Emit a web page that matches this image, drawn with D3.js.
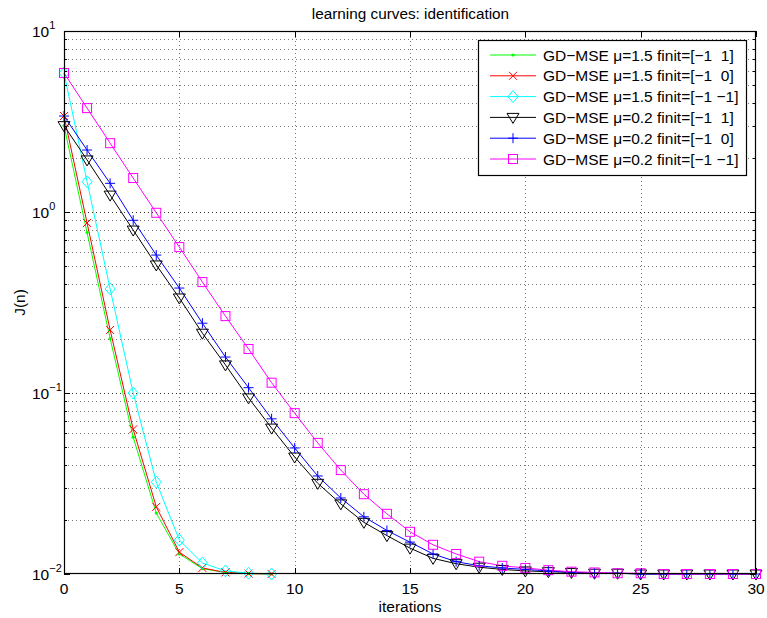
<!DOCTYPE html>
<html>
<head>
<meta charset="utf-8">
<script src="https://cdn.jsdelivr.net/npm/d3@7"></script>
<style>
  body { margin: 0; background: #fff; }
  text { font-family: "Liberation Sans", Arial, sans-serif; }
</style>
</head>
<body>
<div id="chart"></div>
<script>
const WIDTH = 767;
const HEIGHT = 618;
const MARGIN = {top: 31, right: 11, bottom: 44, left: 64};

// data
const green = [3.0, 0.77, 0.20, 0.057, 0.0217, 0.0129, 0.0107, 0.0102, 0.01005, 0.0100];
const red = [3.39, 0.87, 0.223, 0.063, 0.0235, 0.0132, 0.0108, 0.0102, 0.01005, 0.0100];
const cyan = [5.86, 1.47, 0.376, 0.100, 0.0322, 0.0154, 0.0115, 0.0104, 0.0101, 0.0100];
const black = [3.0, 1.94, 1.24, 0.795, 0.51, 0.335, 0.214, 0.143, 0.094, 0.064,
  0.0443, 0.0317, 0.0244, 0.0193, 0.0163, 0.0139, 0.0122, 0.0114, 0.0109, 0.0106,
  0.0104, 0.0103, 0.0102, 0.0101, 0.0101, 0.0100, 0.0100, 0.0100, 0.0100, 0.0100, 0.0100];
const blue = [3.39, 2.2, 1.44, 0.90, 0.578, 0.38, 0.243, 0.158, 0.107, 0.072,
  0.0497, 0.0348, 0.0263, 0.0207, 0.0174, 0.0150, 0.0129, 0.0117, 0.0111, 0.0108,
  0.0106, 0.0104, 0.0102, 0.0101, 0.0101, 0.0100, 0.0100, 0.0100, 0.0100, 0.0100, 0.0100];
const magenta = [5.86, 3.75, 2.40, 1.54, 0.99, 0.64, 0.41, 0.266, 0.175, 0.114,
  0.0774, 0.053, 0.0375, 0.0276, 0.0215, 0.0171, 0.0145, 0.0129, 0.0117, 0.0111,
  0.0108, 0.0105, 0.0103, 0.0102, 0.0101, 0.0101, 0.0100, 0.0100, 0.0100, 0.0100, 0.0100];

const seriesNames = [
  "GD\u2212MSE \u03bc=1.5 finit=[\u22121  1]",
  "GD\u2212MSE \u03bc=1.5 finit=[\u22121  0]",
  "GD\u2212MSE \u03bc=1.5 finit=[\u22121 \u22121]",
  "GD\u2212MSE \u03bc=0.2 finit=[\u22121  1]",
  "GD\u2212MSE \u03bc=0.2 finit=[\u22121  0]",
  "GD\u2212MSE \u03bc=0.2 finit=[\u22121 \u22121]"
];
const seriesColors = ["#00ff00", "#ff0000", "#00ffff", "#000000", "#0000ff", "#ff00ff"];
const seriesMarkers = ["dot", "x", "diamond", "tri", "plus", "square"];
const xTicks = [0, 5, 10, 15, 20, 25, 30];
const yTicks = [0.01, 0.1, 1, 10];
const yTickExp = ["\u22122", "\u22121", "0", "1"];

const series = [green, red, cyan, black, blue, magenta].map((vals, i) => ({
  name: seriesNames[i], color: seriesColors[i], marker: seriesMarkers[i],
  values: vals.map((v, k) => [k, v])
}));

const svg = d3.select("#chart").append("svg")
  .attr("width", WIDTH).attr("height", HEIGHT);

const x = d3.scaleLinear().domain([0, 30]).range([MARGIN.left, WIDTH - MARGIN.right]);
const y = d3.scaleLog().domain([0.01, 10]).range([HEIGHT - MARGIN.bottom, MARGIN.top]);

const x0 = x.range()[0], x1 = x.range()[1], y0 = y.range()[0], y1 = y.range()[1];

// minor log values
const minor = [];
[0.01, 0.1, 1].forEach(d => { for (let k = 2; k <= 9; k++) minor.push(d * k); });

// grid
const grid = svg.append("g").attr("fill", "none")
  .attr("stroke-dasharray", "1 3").attr("stroke-width", 1);
grid.selectAll(".gx").data(xTicks.slice(1, -1)).enter().append("line")
  .attr("x1", d => Math.round(x(d)) + 0.5).attr("x2", d => Math.round(x(d)) + 0.5)
  .attr("y1", y0).attr("y2", y1).attr("stroke", "#777");
grid.selectAll(".gy").data(yTicks.slice(1, -1)).enter().append("line")
  .attr("x1", x0).attr("x2", x1)
  .attr("y1", d => Math.round(y(d)) + 0.5).attr("y2", d => Math.round(y(d)) + 0.5)
  .attr("stroke", "#333");
grid.selectAll(".gm").data(minor).enter().append("line")
  .attr("x1", x0).attr("x2", x1)
  .attr("y1", d => Math.round(y(d)) + 0.5).attr("y2", d => Math.round(y(d)) + 0.5)
  .attr("stroke", "#777");

// curves
const line = d3.line().x(d => x(d[0])).y(d => y(d[1]));
const plot = svg.append("g");
series.forEach(s => {
  plot.append("path").datum(s.values)
    .attr("d", line).attr("fill", "none")
    .attr("stroke", s.color).attr("stroke-width", 1);
});

function drawMarker(g, type, color, cx, cy) {
  if (type === "dot") {
    g.append("circle").attr("cx", cx).attr("cy", cy).attr("r", 1.6).attr("fill", color);
  } else if (type === "x") {
    g.append("path").attr("d", `M${cx-4},${cy-4}L${cx+4},${cy+4}M${cx-4},${cy+4}L${cx+4},${cy-4}`)
      .attr("stroke", color).attr("fill", "none");
  } else if (type === "plus") {
    g.append("path").attr("d", `M${cx-5},${cy}L${cx+5},${cy}M${cx},${cy-5}L${cx},${cy+5}`)
      .attr("stroke", color).attr("fill", "none");
  } else if (type === "diamond") {
    g.append("path").attr("d", `M${cx},${cy-6}L${cx+5},${cy}L${cx},${cy+6}L${cx-5},${cy}Z`)
      .attr("stroke", color).attr("fill", "none");
  } else if (type === "square") {
    g.append("rect").attr("x", cx - 4.5).attr("y", cy - 4.5).attr("width", 9).attr("height", 9)
      .attr("stroke", color).attr("fill", "none");
  } else if (type === "tri") {
    g.append("path").attr("d", `M${cx-6},${cy-4}L${cx+6},${cy-4}L${cx},${cy+6}Z`)
      .attr("stroke", color).attr("fill", "none");
  }
}

series.forEach(s => {
  const g = plot.append("g");
  s.values.forEach(d => drawMarker(g, s.marker, s.color, x(d[0]), y(d[1])));
});

// axes box and ticks
const ax = svg.append("g").attr("stroke", "#000").attr("fill", "none");
ax.append("rect").attr("x", x0 + 0.5).attr("y", y1 + 0.5)
  .attr("width", x1 - x0 - 1).attr("height", y0 - y1 - 1).attr("stroke-width", 1.2);
xTicks.forEach(d => {
  const px = Math.round(x(d)) + 0.5;
  ax.append("line").attr("x1", px).attr("x2", px).attr("y1", y0).attr("y2", y0 - 6);
  ax.append("line").attr("x1", px).attr("x2", px).attr("y1", y1).attr("y2", y1 + 6);
});
yTicks.concat(minor).forEach(d => {
  const py = Math.round(y(d)) + 0.5;
  const len = yTicks.includes(d) ? 6 : 3;
  ax.append("line").attr("x1", x0).attr("x2", x0 + len).attr("y1", py).attr("y2", py);
  ax.append("line").attr("x1", x1).attr("x2", x1 - len).attr("y1", py).attr("y2", py);
});

// tick labels
svg.append("g").selectAll("text").data(xTicks).enter().append("text")
  .attr("x", d => x(d)).attr("y", y0 + 20)
  .attr("text-anchor", "middle").attr("font-size", 15.5).text(d => d);

const yl = svg.append("g").selectAll("text").data(yTicks).enter().append("text")
  .attr("x", x0 - 32).attr("y", d => y(d) + 6).attr("font-size", 15.5);
yl.append("tspan").text("10");
yl.append("tspan").attr("dy", -8).attr("font-size", 11).text((d, i) => yTickExp[i]);

// labels
svg.append("text").attr("x", (x0 + x1) / 2 + 0.5).attr("y", 19)
  .attr("text-anchor", "middle").attr("font-size", 15.3).text("learning curves: identification");
svg.append("text").attr("x", (x0 + x1) / 2).attr("y", 612)
  .attr("text-anchor", "middle").attr("font-size", 15.5).text("iterations");
svg.append("text").attr("transform", `translate(25,${(y0 + y1) / 2}) rotate(-90)`)
  .attr("text-anchor", "middle").attr("font-size", 15.5).text("J(n)");

// legend
const lg = svg.append("g").attr("transform", "translate(478,40)");
lg.append("rect").attr("x", 0.5).attr("y", 0.5).attr("width", 268).attr("height", 135)
  .attr("fill", "#fff").attr("stroke", "#000").attr("stroke-width", 1.2);
series.forEach((s, i) => {
  const cy = 15 + i * 20.8;
  lg.append("line").attr("x1", 12).attr("x2", 58).attr("y1", cy).attr("y2", cy)
    .attr("stroke", s.color);
  drawMarker(lg, s.marker, s.color, 35, cy);
  lg.append("text").attr("x", 65).attr("y", cy + 5.5).attr("font-size", 15.5)
    .style("white-space", "pre").text(s.name);
});
</script>
</body>
</html>
